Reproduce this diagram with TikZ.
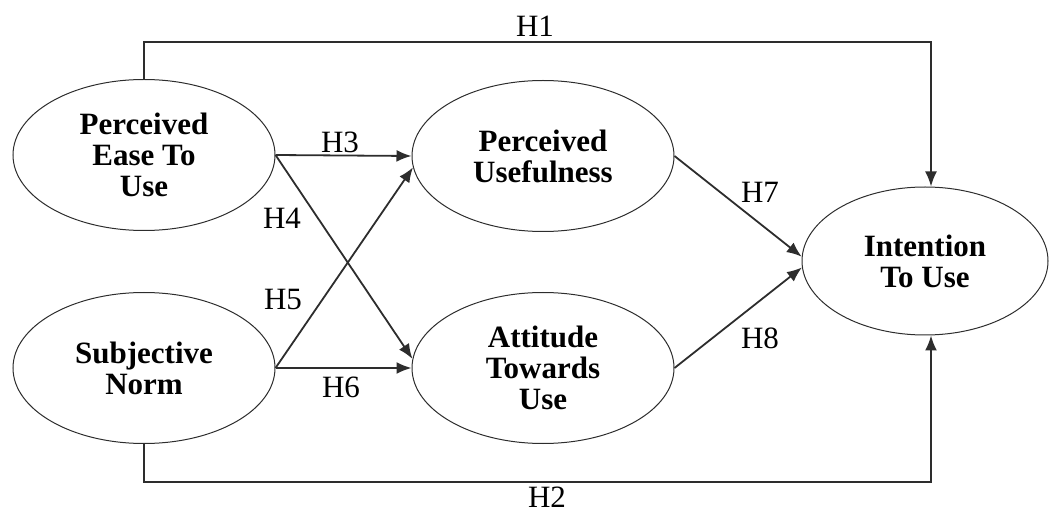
\documentclass[tikz,border=0pt]{standalone}
\usepackage{fontspec}
\setmainfont{Liberation Serif}
\usetikzlibrary{arrows.meta,shapes.geometric}
\definecolor{line_gray}{RGB}{45,45,45}

\begin{document}
\begin{tikzpicture}[x=1pt, y=1pt,
    construct/.style={ellipse, draw=line_gray, line width=1pt, inner sep=0pt,
      minimum width=262pt, minimum height=151pt, align=center,
      font=\bfseries\fontsize{31}{31}\selectfont},
    hyp/.style={inner sep=0pt, font=\fontsize{31}{31}\selectfont},
    arr/.style={line_gray, line width=1.8pt, -{Latex[length=15pt,width=12pt]}}]
        \useasboundingbox (0,0) rectangle (1050,512);
        % constructs
        \node[construct] (peu) at (144,357) {Perceived\\Ease To\\Use};
        \node[construct] (sn) at (144,144) {Subjective\\Norm};
        \node[construct] (pu) at (543,356) {Perceived\\Usefulness};
        \node[construct] (atu) at (543,144) {Attitude\\Towards\\Use};
        \node[construct, minimum width=246pt, minimum height=148pt]
          (itu) at (925,251) {Intention\\To Use};
        \coordinate (top) at (931,470);
        \coordinate (bot) at (931,30);
        % paths
        \draw[arr] (peu.north) |- (top) -- (top |- itu.north);
        \draw[arr] (sn.south) |- (bot) -- (bot |- itu.south);
        \draw[arr] (peu.east) -- (pu.west);
        \draw[arr] (peu.east) -- (atu.176);
        \draw[arr] (sn.east) -- (pu.185);
        \draw[arr] (sn.east) -- (atu.west);
        \draw[arr] (pu.east) -- (itu.178);
        \draw[arr] (atu.east) -- (itu.183);
        % hypotheses
        \node[hyp] (h1) at (535,486) {H1};
        \node[hyp] (h2) at (547,15) {H2};
        \node[hyp] (h3) at (340,370) {H3};
        \node[hyp] (h4) at (282,294) {H4};
        \node[hyp] (h5) at (283,212) {H5};
        \node[hyp] (h6) at (341,125) {H6};
        \node[hyp] (h7) at (760,320) {H7};
        \node[hyp] (h8) at (760,174) {H8};
\end{tikzpicture}
\end{document}
